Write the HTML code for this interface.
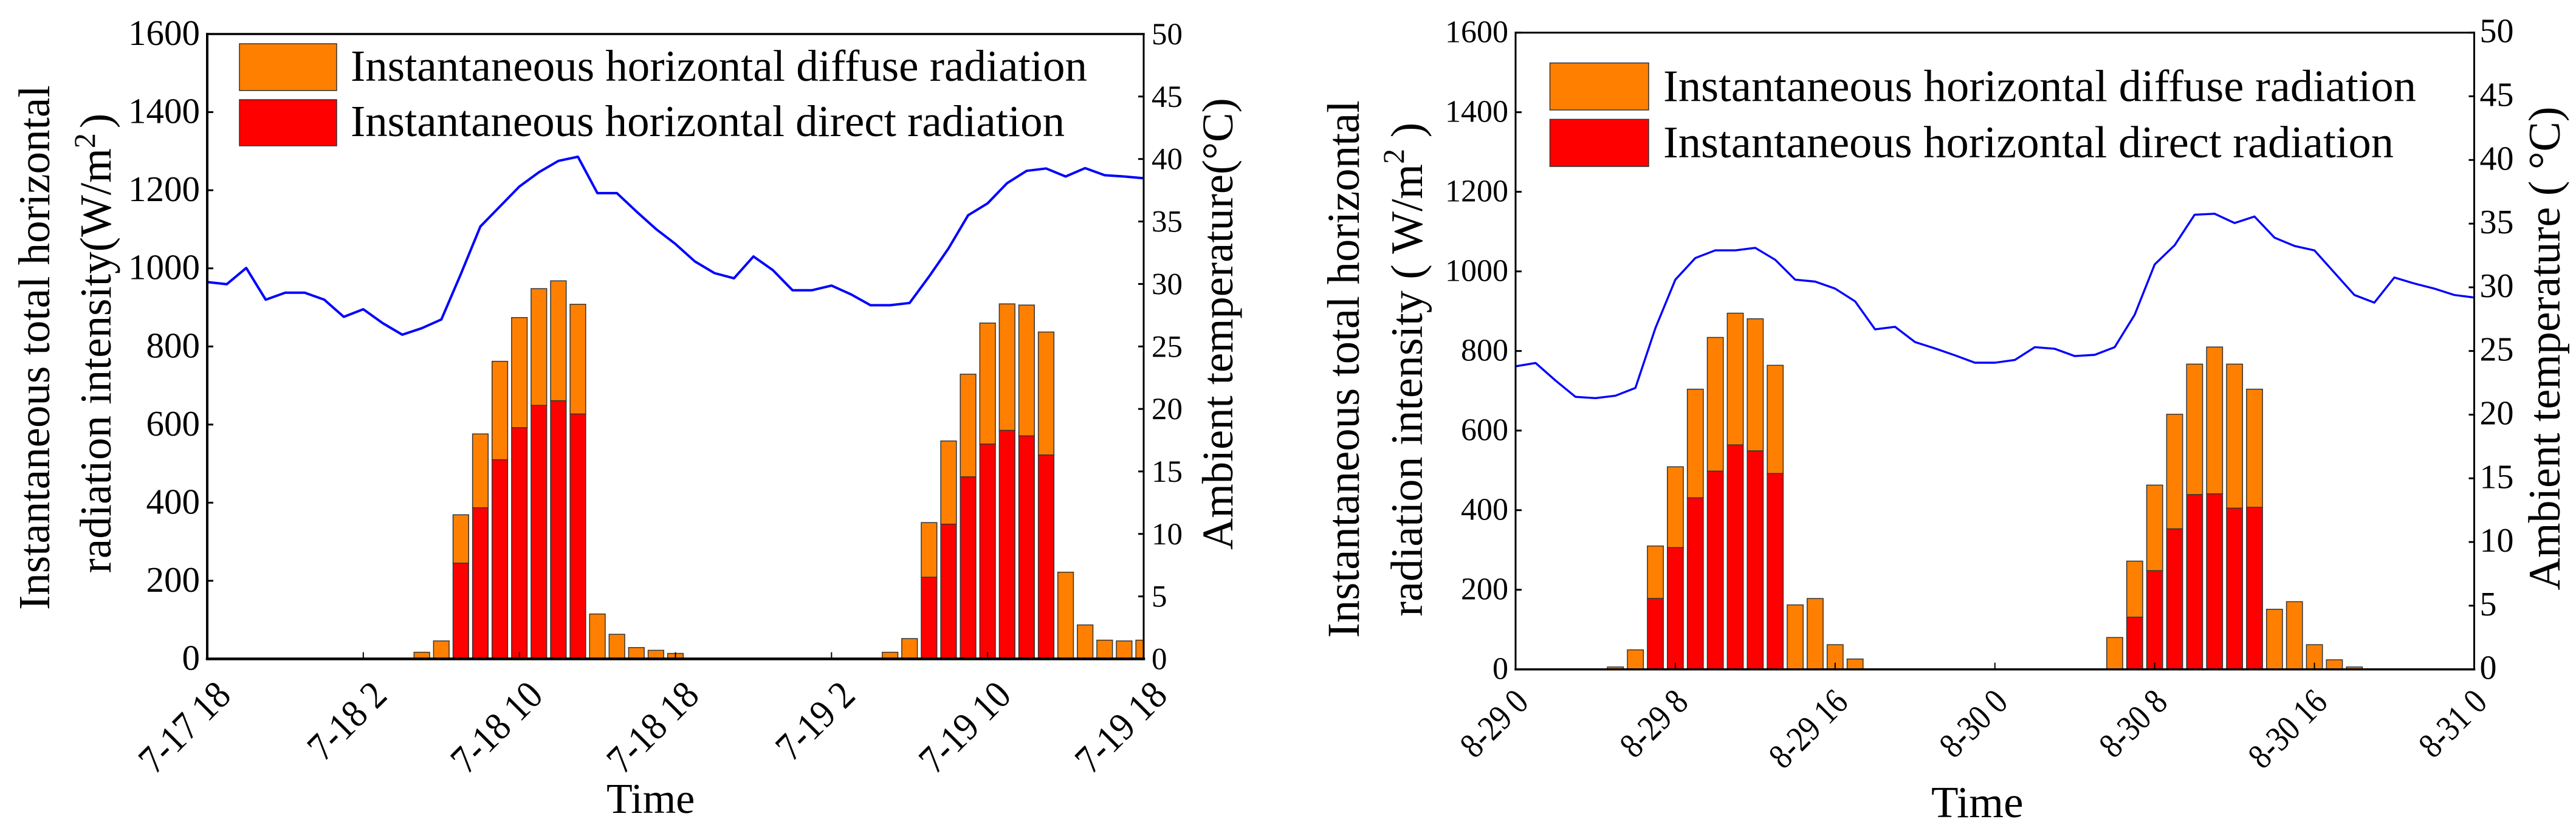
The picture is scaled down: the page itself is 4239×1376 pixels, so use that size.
<!DOCTYPE html>
<html lang="en">
<head>
<meta charset="utf-8">
<title>Radiation and ambient temperature</title>
<style>
html,body{margin:0;padding:0;background:#fff;}
svg{display:block;}
text{font-family:"Liberation Serif",serif;fill:#000;}
</style>
</head>
<body>
<svg id="figure" xmlns="http://www.w3.org/2000/svg" width="4239" height="1376" viewBox="0 0 4239 1376">
  <rect width="4239" height="1376" fill="#fff"/>
  <g id="panel-a"></g>
  <g id="panel-b"></g>

  <!-- left panel titles and legend -->
  <text transform="translate(81,1004) rotate(-90)" font-size="73">Instantaneous total horizontal</text>
  <text transform="translate(182,943.5) rotate(-90)" font-size="73">radiation intensity(W/m<tspan font-size="50" dy="-26">2</tspan><tspan dy="26" dx="8">)</tspan></text>
  <text transform="translate(2028,905) rotate(-90)" font-size="72.5">Ambient temperature(°C)</text>
  <text x="998" y="1338" font-size="70">Time</text>
  <rect x="394" y="72" width="160" height="77" fill="#ff8000" stroke="#333" stroke-width="1.5"/>
  <rect x="394" y="164" width="160" height="76" fill="#ff0000" stroke="#333" stroke-width="1.5"/>
  <text x="577" y="133" font-size="73" textLength="1212" lengthAdjust="spacingAndGlyphs">Instantaneous horizontal diffuse radiation</text>
  <text x="577" y="224" font-size="73" textLength="1175" lengthAdjust="spacingAndGlyphs">Instantaneous horizontal direct radiation</text>

  <!-- right panel titles and legend -->
  <text transform="translate(2236,1050) rotate(-90)" font-size="74.8">Instantaneous total horizontal</text>
  <text transform="translate(2340,1014.6) rotate(-90)" font-size="74">radiation intensity ( W/m<tspan font-size="50" dy="-30">2</tspan><tspan dy="30"> )</tspan></text>
  <text transform="translate(4212,971.5) rotate(-90)" font-size="74">Ambient temperature ( °C)</text>
  <text x="3178" y="1345" font-size="73">Time</text>
  <rect x="2550.5" y="103.6" width="162.5" height="77.4" fill="#ff8000" stroke="#333" stroke-width="1.5"/>
  <rect x="2550.5" y="196.4" width="162.5" height="77.6" fill="#ff0000" stroke="#333" stroke-width="1.5"/>
  <text x="2737" y="166.5" font-size="74.5" textLength="1239" lengthAdjust="spacingAndGlyphs">Instantaneous horizontal diffuse radiation</text>
  <text x="2737" y="259" font-size="74.5" textLength="1202" lengthAdjust="spacingAndGlyphs">Instantaneous horizontal direct radiation</text>
</svg>

<script>
// Shared axis values
const radiationTicks = [0, 200, 400, 600, 800, 1000, 1200, 1400, 1600];
const temperatureTicks = [0, 5, 10, 15, 20, 25, 30, 35, 40, 45, 50];
const timeTickHours = [0, 8, 16, 24, 32, 40, 48];

// July panel: one value per hour, from 7-17 18h to 7-19 18h
const julyTimeLabels = ['7-17 18', '7-18 2', '7-18 10', '7-18 18', '7-19 2', '7-19 10', '7-19 18'];
const julyDirect = [
  0,0,0,0,0,0,0,0,0,0,0,0,0,
  245,387,510,592,649,661,627,
  0,0,0,0,0,0,0,0,0,0,0,0,0,0,0,0,0,
  209,345,466,550,585,571,522,
  0,0,0,0,0
];
const julyDiffuse = [
  0,0,0,0,0,0,0,0,0,0,0,
  17,46,124,189,252,282,299,307,281,115,63,29,22,14,
  0,0,0,0,0,0,0,0,0,0,
  17,52,140,213,263,310,324,335,315,222,87,48,46,48
];
const julyTemperature = [
  30.15,29.98,31.28,28.74,29.3,29.3,28.74,27.37,27.98,26.86,25.94,26.46,27.16,
  30.8,34.6,36.2,37.8,38.94,39.85,40.18,37.27,37.27,35.8,34.4,33.2,31.8,30.87,30.45,
  32.2,31.1,29.5,29.5,29.87,29.17,28.3,28.3,28.48,30.6,32.86,35.5,36.45,38.07,39.05,
  39.24,38.6,39.27,38.7,38.6,38.46
];

// August panel: one value per hour, from 8-29 0h to 8-31 0h
const augustTimeLabels = ['8-29 0', '8-29 8', '8-29 16', '8-30 0', '8-30 8', '8-30 16', '8-31 0'];
const augustDirect = [
  0,0,0,0,0,0,0,
  178,306,431,498,564,549,492,
  0,0,0,0,0,0,0,0,0,0,0,0,0,0,0,0,0,
  131,248,353,439,441,405,407,
  0,0,0,0,0,0,0,0,0,0,0
];
const augustDiffuse = [
  0,0,0,0,0,
  6,49,132,203,273,336,331,332,272,162,178,62,26,
  0,0,0,0,0,0,0,0,0,0,0,0,
  80,141,215,288,328,369,362,297,151,170,62,24,6,
  0,0,0,0,0,0
];
const augustTemperature = [
  23.8,24.06,22.68,21.4,21.3,21.49,22.1,26.8,30.6,32.3,32.9,32.9,33.1,32.16,30.6,30.45,
  29.9,28.9,26.7,26.9,25.7,25.2,24.66,24.08,24.08,24.3,25.3,25.17,24.6,24.7,25.3,27.85,
  31.8,33.3,35.7,35.78,35.05,35.56,33.9,33.25,32.9,31.15,29.4,28.8,30.77,30.3,29.9,29.4,29.2
];

const SVG_NS = 'http://www.w3.org/2000/svg';

function drawPanel(root, prefix, layout, timeLabels, direct, diffuse, temperature) {
  const hourCount = temperature.length - 1;
  const xAxis = h => layout.left + (layout.right - layout.left) * h / hourCount;
  const radiationAxis = v => layout.bottom - (layout.bottom - layout.top) * v / 1600;
  const temperatureAxis = t => layout.bottom - (layout.bottom - layout.top) * t / 50;
  const barWidth = (xAxis(1) - xAxis(0)) * 0.8;

  const make = (tag, parent, props) => {
    const el = document.createElementNS(SVG_NS, tag);
    Object.keys(props).forEach(k => el.setAttribute(k, props[k]));
    parent.appendChild(el);
    return el;
  };

  const clipId = prefix + '-plot-clip';
  const defs = make('defs', root, {});
  const clip = make('clipPath', defs, { id: clipId });
  make('rect', clip, {
    x: layout.left, y: layout.top,
    width: layout.right - layout.left, height: layout.bottom - layout.top
  });

  const barsGroup = make('g', root, { 'clip-path': 'url(#' + clipId + ')' });
  
  

  diffuse.forEach((value, h) => {
    const base = direct[h];
    if (value > 0) {
      const yTop = radiationAxis(base + value);
      const bar = make('rect', barsGroup, {
        x: xAxis(h) - barWidth / 2, y: yTop, width: barWidth,
        height: radiationAxis(base) - yTop,
        fill: '#ff8000', stroke: '#333', 'stroke-width': 1.5
      });
      
      
    }
    if (base > 0) {
      const yTop = radiationAxis(base);
      const bar = make('rect', barsGroup, {
        x: xAxis(h) - barWidth / 2, y: yTop, width: barWidth,
        height: radiationAxis(0) - yTop,
        fill: '#ff0000', stroke: '#333', 'stroke-width': 1.5
      });
      
      
    }
  });

  const points = temperature.map((t, h) => xAxis(h).toFixed(1) + ',' + temperatureAxis(t).toFixed(1)).join(' ');
  const line = make('polyline', root, {
    points: points, fill: 'none', stroke: '#0000ff',
    'stroke-width': layout.lineWidth, 'stroke-linejoin': 'round'
  });
  
  

  // Time ticks and rotated labels
  timeTickHours.forEach((h, i) => {
    const x = xAxis(h);
    const tick = make('line', root, {
      x1: x, x2: x, y1: layout.bottom, y2: layout.bottom - 11, stroke: '#000', 'stroke-width': 2
    });
    
    
    const ax = x + layout.timeLabelDx;
    const label = make('text', root, {
      'text-anchor': 'end', 'font-size': layout.timeFont,
      transform: 'translate(' + ax + ',' + layout.timeLabelY + ') rotate(-45) scale(1,' + layout.timeStretch + ')'
    });
    label.textContent = timeLabels[i];
    
    
  });

  // Radiation axis ticks
  radiationTicks.forEach(v => {
    const y = radiationAxis(v);
    const tick = make('line', root, {
      x1: layout.left, x2: layout.left + 10, y1: y, y2: y, stroke: '#000', 'stroke-width': 3
    });
    
    
    const label = make('text', root, {
      x: layout.leftLabelX, y: y + layout.leftLabelDy,
      'text-anchor': 'end', 'font-size': layout.leftFont
    });
    label.textContent = v;
    
    
  });

  // Temperature axis ticks
  temperatureTicks.forEach(t => {
    const y = temperatureAxis(t);
    const tick = make('line', root, {
      x1: layout.right, x2: layout.right - 9, y1: y, y2: y, stroke: '#000', 'stroke-width': 3
    });
    
    
    const label = make('text', root, {
      x: layout.rightLabelX, y: y + layout.rightLabelDy, 'font-size': layout.rightFont
    });
    label.textContent = t;
    
    
  });

  // Frame
  const f = layout.frame;
  const spines = make('g', root, { stroke: '#000', 'stroke-linecap': 'square' });
  
  
  make('line', spines, { x1: layout.left, x2: layout.right, y1: layout.top, y2: layout.top, 'stroke-width': f.top });
  make('line', spines, { x1: layout.left, x2: layout.right, y1: layout.bottom, y2: layout.bottom, 'stroke-width': f.bottom });
  make('line', spines, { x1: layout.left, x2: layout.left, y1: layout.top, y2: layout.bottom, 'stroke-width': f.left });
  make('line', spines, { x1: layout.right, x2: layout.right, y1: layout.top, y2: layout.bottom, 'stroke-width': f.right });
}

drawPanel(document.getElementById('panel-a'), 'july', {
  left: 341, right: 1882, top: 56, bottom: 1084.5, lineWidth: 4,
  leftFont: 59, leftLabelX: 329, leftLabelDy: 18,
  rightFont: 51, rightLabelX: 1895, rightLabelDy: 17,
  timeFont: 59, timeStretch: 1.1, timeLabelDx: 42, timeLabelY: 1148,
  frame: { top: 3.5, bottom: 4.5, left: 4, right: 3 }
}, julyTimeLabels, julyDirect, julyDiffuse, julyTemperature);

drawPanel(document.getElementById('panel-b'), 'august', {
  left: 2494, right: 4071.5, top: 53.7, bottom: 1101.7, lineWidth: 3.4,
  leftFont: 52, leftLabelX: 2482, leftLabelDy: 16,
  rightFont: 56, rightLabelX: 4080.5, rightLabelDy: 16,
  timeFont: 50, timeStretch: 1.18, timeLabelDx: 24, timeLabelY: 1159,
  frame: { top: 3, bottom: 3.5, left: 3, right: 3 }
}, augustTimeLabels, augustDirect, augustDiffuse, augustTemperature);
</script>
</body>
</html>
